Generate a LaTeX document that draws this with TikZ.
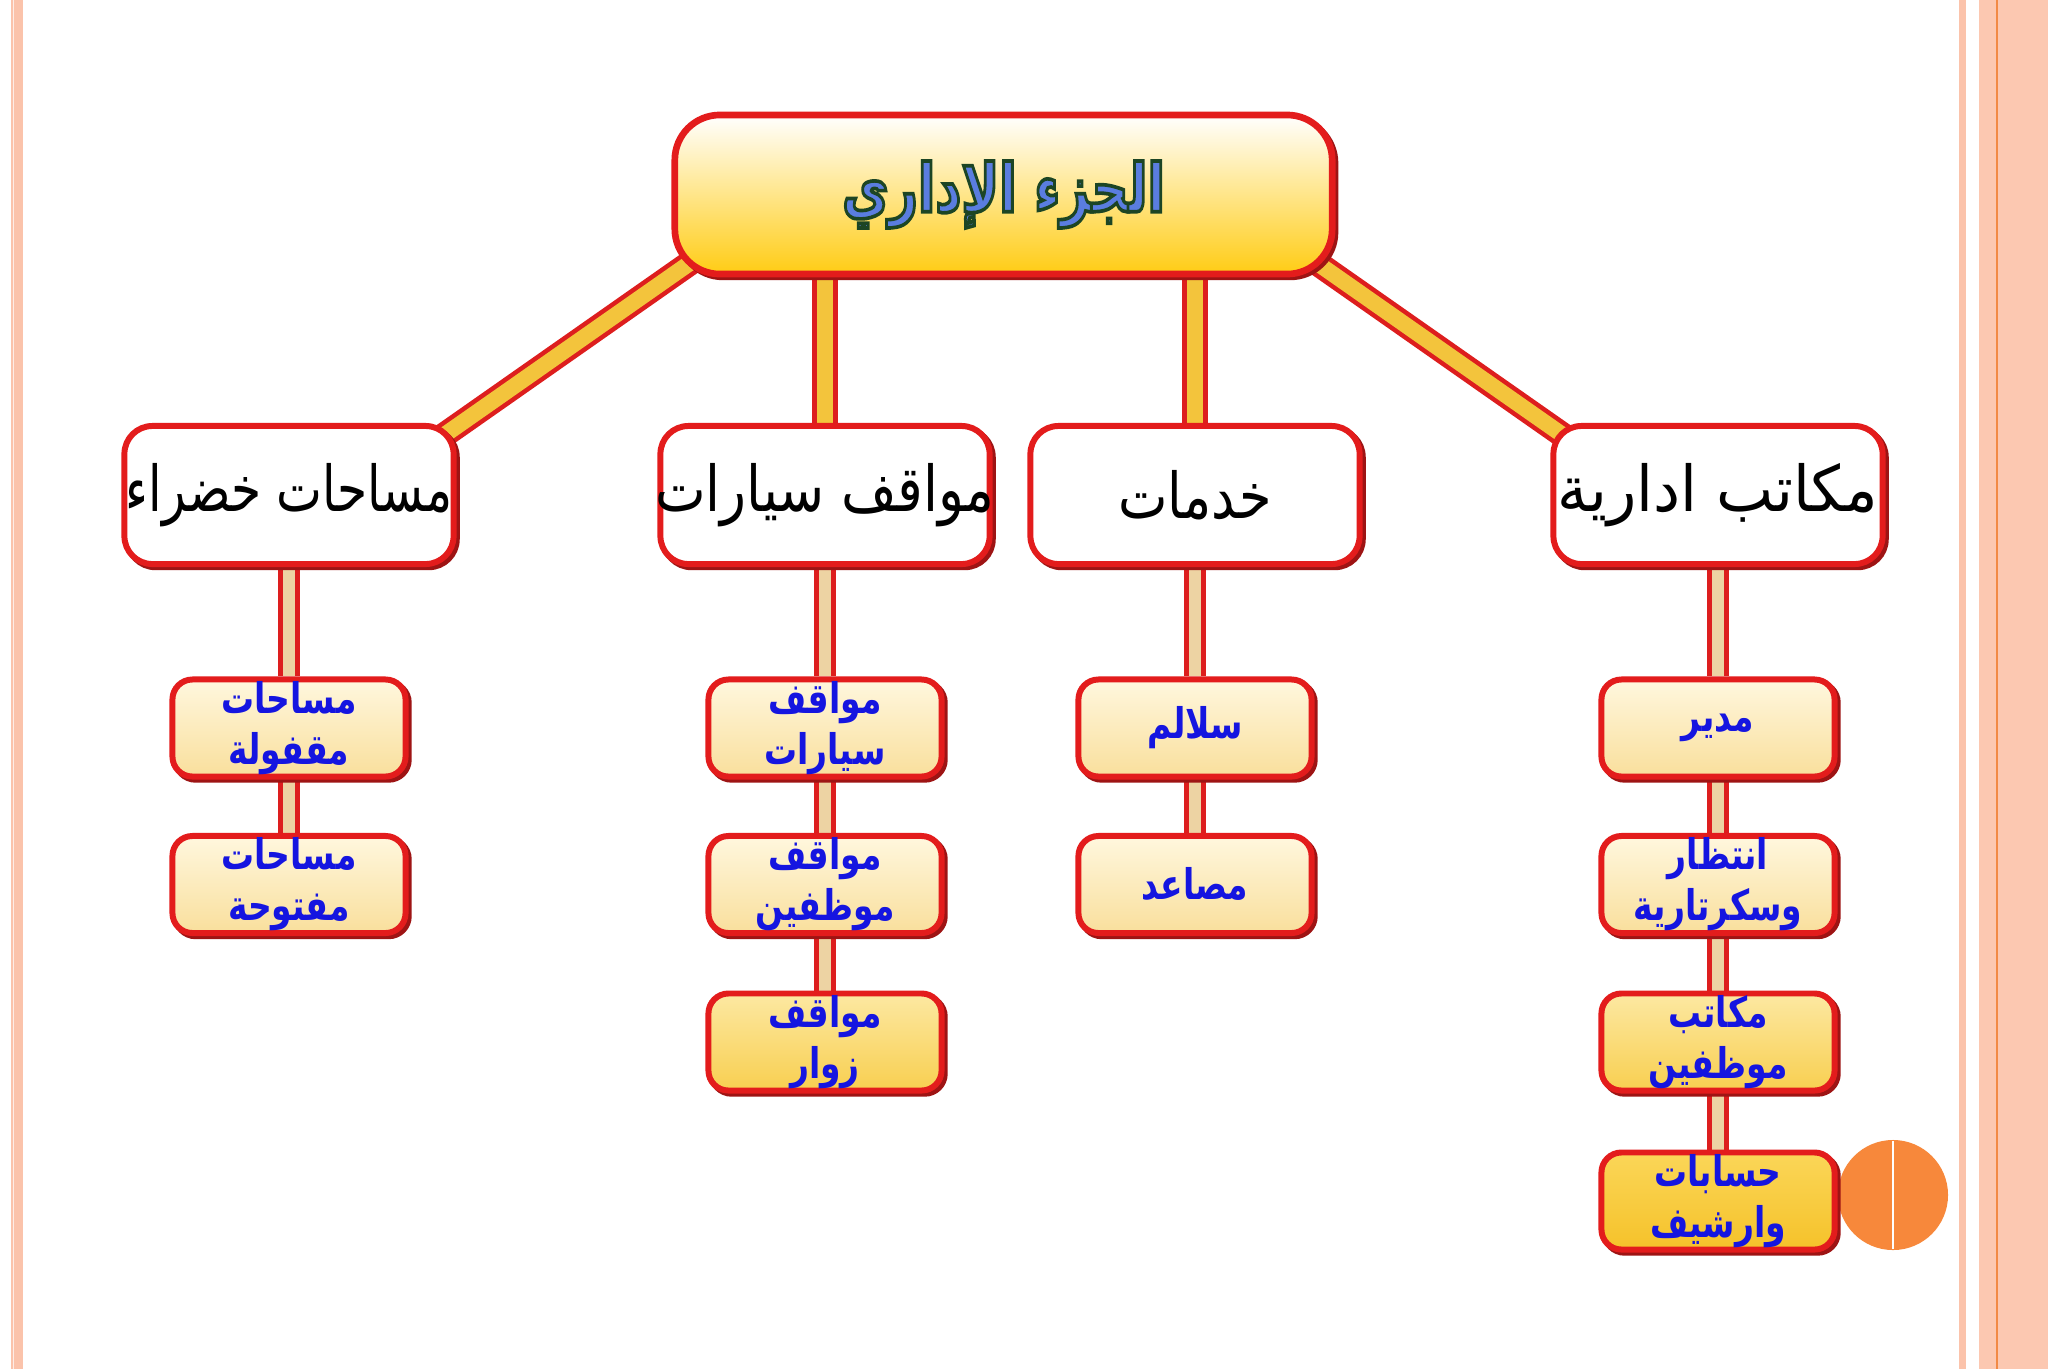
\documentclass[tikz,border=0pt]{standalone}
\usepackage{fontspec}
\newfontfamily\arabicfont[Script=Arabic]{DejaVu Sans}
\newfontfamily\topfont[Script=Arabic,FakeBold=5.5]{DejaVu Sans Bold}
\TeXXeTstate=1
\usetikzlibrary{backgrounds,calc}
\definecolor{boxred}{HTML}{E31C1C}
\definecolor{shadowred}{HTML}{9E1414}
\definecolor{barred}{HTML}{DD1E1E}
\definecolor{topgold}{HTML}{FFCC14}
\definecolor{topblue}{HTML}{5A7DE0}
\definecolor{leafblue}{HTML}{1515E0}
\definecolor{creamtop}{HTML}{FFF7DE}
\definecolor{creambot}{HTML}{F9DF9C}
\definecolor{ytop}{HTML}{FCE8A2}
\definecolor{ybot}{HTML}{F8CF50}
\definecolor{deeptop}{HTML}{FBD658}
\definecolor{deepbot}{HTML}{F5C22A}
\definecolor{upbarfill}{HTML}{F3C43C}
\definecolor{lowbarfill}{HTML}{EDD3A3}
\definecolor{stripe}{HTML}{FBC3AB}
\definecolor{stripeb}{HTML}{FCC8B1}
\definecolor{orangeline}{HTML}{F28A45}
\definecolor{dotorange}{HTML}{F7883B}
\newcommand\midtext[2]{\makebox[0pt]{\scalebox{#1}[1]{#2}}}
\newcommand\leafline[1]{\scalebox{0.78}[1]{#1}}
\tikzset{
  boxshadow/.style={preaction={draw=shadowred, line width=1.7pt, fill=none,
    transform canvas={shift={(0.9pt,-0.9pt)}}}},
  topbox/.style={rounded corners=0.45cm, draw=boxred, line width=1.9pt,
    top color=white, bottom color=topgold, minimum width=6.57cm,
    minimum height=1.59cm, inner sep=0pt, boxshadow,
    font=\topfont\fontsize{19}{23}\selectfont},
  midbox/.style={rounded corners=0.28cm, draw=boxred, line width=1.7pt,
    fill=white, minimum width=3.29cm, minimum height=1.38cm, inner sep=0pt,
    boxshadow, font=\arabicfont\fontsize{18}{21}\selectfont},
  leafbox/.style={rounded corners=0.2cm, draw=boxred, line width=1.7pt,
    top color=creamtop, bottom color=creambot, minimum width=2.33cm,
    minimum height=0.97cm, inner sep=0pt, align=center, text=leafblue, boxshadow,
    font=\arabicfont\bfseries\fontsize{12}{14.5}\selectfont},
  yellowleaf/.style={top color=ytop, bottom color=ybot},
  deepleaf/.style={top color=deeptop, bottom color=deepbot},
  upbar/.style={draw=barred, line width=1.3pt, double=upbarfill, double distance=0.16cm},
  lowbar/.style={draw=barred, line width=1.4pt, double=lowbarfill, double distance=0.12cm},
}
\begin{document}
\begin{tikzpicture}[x=0.01cm,y=-0.01cm]
\useasboundingbox (0,0) rectangle (2048,1369);
% top
\node[topbox] (top) at (1003.5,194.5) {\textcolor{topblue}{\special{pdf:literal direct 0.11 0.27 0.14 RG}\scalebox{0.76}[1]{\beginR الجزء الإداري\endR}}};
% second level
\node[midbox] (A) at (289,495) {\midtext{0.77}{\beginR مساحات خضراء\endR}};
\node[midbox] (B) at (825,495) {\midtext{0.85}{\beginR مواقف سيارات\endR}};
\node[midbox] (C) at (1195,495) {\midtext{0.83}{\beginR خدمات\endR}};
\node[midbox] (D) at (1718,495) {\midtext{0.96}{\beginR مكاتب ادارية\endR}};
% leaves
\node[leafbox] (A1) at (289,728) {\leafline{\beginR مساحات\endR}\\\leafline{\beginR مقفولة\endR}};
\node[leafbox] (A2) at (289,884.5) {\leafline{\beginR مساحات\endR}\\\leafline{\beginR مفتوحة\endR}};
\node[leafbox] (B1) at (825,728) {\leafline{\beginR مواقف\endR}\\\leafline{\beginR سيارات\endR}};
\node[leafbox] (B2) at (825,884.5) {\leafline{\beginR مواقف\endR}\\\leafline{\beginR موظفين\endR}};
\node[leafbox,yellowleaf] (B3) at (825,1042) {\leafline{\beginR مواقف\endR}\\\leafline{\beginR زوار\endR}};
\node[leafbox] (C1) at (1195,728) {\leafline{\beginR سلالم\endR}};
\node[leafbox] (C2) at (1195,884.5) {\leafline{\beginR مصاعد\endR}};
\node[leafbox] (D1) at (1718,728) {\leafline{\beginR مدير\endR}};
\node[leafbox] (D2) at (1718,884.5) {\leafline{\beginR انتظار\endR}\\\leafline{\beginR وسكرتارية\endR}};
\node[leafbox,yellowleaf] (D3) at (1718,1042) {\leafline{\beginR مكاتب\endR}\\\leafline{\beginR موظفين\endR}};
\node[leafbox,deepleaf] (D4) at (1718,1201) {\leafline{\beginR حسابات\endR}\\\leafline{\beginR وارشيف\endR}};
\begin{scope}[on background layer]
  \fill[white] (0,0) rectangle (2048,1369);
  \fill[stripe] (11,0) rectangle (23,1369);
  \fill[white!70!stripe] (12.5,0) rectangle (14,1369);
  \fill[stripe] (1959,0) rectangle (1966,1369);
  \fill[stripeb] (1979,0) rectangle (2048,1369);
  \draw[orangeline, line width=0.6pt] (1997,0) -- (1997,1369);
  \fill[dotorange] (1893,1195) circle[radius=0.55cm];
  \draw[white, line width=0.5pt] (1893,1141) -- (1893,1249);
  % upper connectors
  \draw[upbar] ($(top.south west)+(25,-19)$) -- ($(A.north east)+(-15,14)$);
  \draw[upbar] ($(top.south east)+(-25,-19)$) -- ($(D.north west)+(15,14)$);
  \draw[upbar] (top.south -| B.north) -- (B.north);
  \draw[upbar] (top.south -| C.north) -- (C.north);
  % lower connectors
  \draw[lowbar] (A.south) -- (A1.north);
  \draw[lowbar] (A1.south) -- (A2.north);
  \draw[lowbar] (B.south) -- (B1.north);
  \draw[lowbar] (B1.south) -- (B2.north);
  \draw[lowbar] (B2.south) -- (B3.north);
  \draw[lowbar] (C.south) -- (C1.north);
  \draw[lowbar] (C1.south) -- (C2.north);
  \draw[lowbar] (D.south) -- (D1.north);
  \draw[lowbar] (D1.south) -- (D2.north);
  \draw[lowbar] (D2.south) -- (D3.north);
  \draw[lowbar] (D3.south) -- (D4.north);
\end{scope}
\end{tikzpicture}
\end{document}
